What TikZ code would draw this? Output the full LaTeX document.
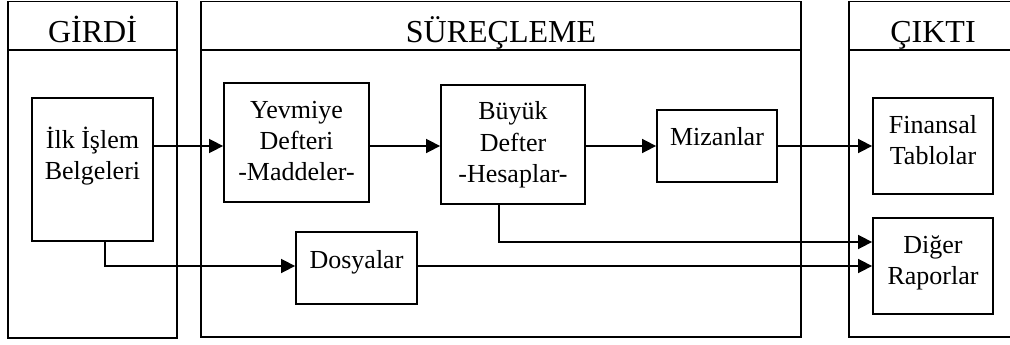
\documentclass[tikz,border=0pt]{standalone}
\usepackage{fontspec}
\setmainfont{Liberation Serif}
\usetikzlibrary{arrows.meta}
\begin{document}
\begin{tikzpicture}[x=1pt,y=-1pt,
  frame/.style={draw, line width=1.8pt},
  box/.style={draw, line width=1.8pt, rectangle, inner sep=0pt},
  txt/.style={font=\fontsize{26}{31}\selectfont, anchor=base, inner sep=0pt},
  head/.style={font=\fontsize{32}{38}\selectfont, anchor=base, inner sep=0pt},
  flow/.style={line width=1.6pt, -{Triangle[length=14pt,width=14pt]}}]
\useasboundingbox (0,0) rectangle (1010,345);
\begin{scope}
\clip (0,0) rectangle (1010,345);

% three column panels with their headers
\draw[frame] (8,1.5) rectangle (177,338);
\draw[frame] (8,50) -- (177,50);
\draw[frame] (201,1.5) rectangle (801,337);
\draw[frame] (201,50) -- (801,50);
\draw[frame] (849,1.5) rectangle (1020,337);
\draw[frame] (849,50) -- (1020,50);
\end{scope}
\node[head] (hin)  at (92.5,43) {GİRDİ};
\node[head] (hpro) at (501,43) {SÜREÇLEME};
\node[head] (hout) at (933,43) {ÇIKTI};

% boxes
\node[box, minimum width=121pt, minimum height=143pt] (ilk) at (92.5,169.5) {};
\node[box, minimum width=145pt, minimum height=119pt] (yev) at (296.5,142.5) {};
\node[box, minimum width=144pt, minimum height=119pt] (buy) at (513,144.5) {};
\node[box, minimum width=120pt, minimum height=72pt]  (miz) at (717,146) {};
\node[box, minimum width=121pt, minimum height=72pt]  (dos) at (356.5,268) {};
\node[box, minimum width=120pt, minimum height=96pt]  (fin) at (933,146) {};
\node[box, minimum width=120pt, minimum height=96pt]  (dig) at (933,266) {};

% box texts
\node[txt] (ilk1) at (92.5,148) {İlk İşlem};
\node[txt] (ilk2) at (92.5,179) {Belgeleri};
\node[txt] (yev1) at (296.5,118) {Yevmiye};
\node[txt] (yev2) at (296.5,149) {Defteri};
\node[txt] (yev3) at (296.5,180) {-Maddeler-};
\node[txt] (buy1) at (513,120) {Büyük};
\node[txt] (buy2) at (513,151) {Defter};
\node[txt] (buy3) at (513,182) {-Hesaplar-};
\node[txt] (miz1) at (717,146) {Mizanlar};
\node[txt] (dos1) at (356.5,268) {Dosyalar};
\node[txt] (fin1) at (933,133) {Finansal};
\node[txt] (fin2) at (933,164) {Tablolar};
\node[txt] (dig1) at (933,253) {Diğer};
\node[txt] (dig2) at (933,284) {Raporlar};

% routing levels
\coordinate (lvl) at (0,146);
\coordinate (b1) at (499,242);
\coordinate (i1) at (105,266);

% connectors
\draw[flow] (ilk.east |- lvl) -- (yev.west |- lvl);
\draw[flow] (yev.east |- lvl) -- (buy.west |- lvl);
\draw[flow] (buy.east |- lvl) -- (miz.west |- lvl);
\draw[flow] (miz.east |- lvl) -- (fin.west |- lvl);
\draw[flow] (buy.south -| b1) -- (b1) -- (dig.west |- b1);
\draw[flow] (ilk.south -| i1) -- (i1) -- (dos.west |- i1);
\draw[flow] (dos.east |- i1) -- (dig.west |- i1);
\end{tikzpicture}
\end{document}
